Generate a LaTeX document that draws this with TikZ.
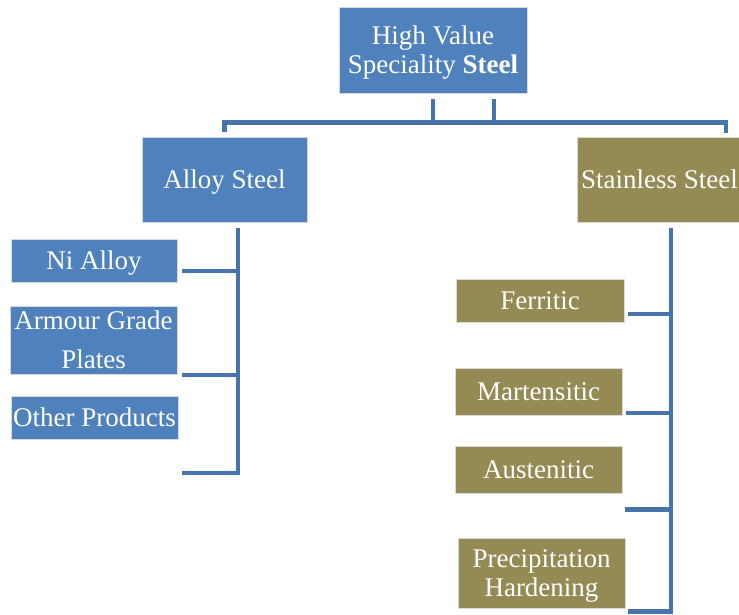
\documentclass[tikz,border=0pt]{standalone}
\usepackage{fontspec}
\setmainfont{Liberation Serif}
\definecolor{boxblue}{HTML}{4F81BD}
\definecolor{boxolive}{HTML}{948A54}
\definecolor{linkblue}{HTML}{4874AD}
\newcommand{\lowerby}[2]{\raisebox{-#1}[\height][\depth]{\begin{tabular}{@{}c@{}}#2\end{tabular}}}
\begin{document}
\begin{tikzpicture}[x=1pt,y=-1pt,
  box/.style={draw=white!85!black, line width=0.8pt, text=white, align=center,
    font=\fontsize{27}{28.5}\selectfont, inner sep=0pt},
  bluebox/.style={box, fill=boxblue},
  olivebox/.style={box, fill=boxolive},
  link/.style={draw=linkblue, line width=4.5pt}]
\clip (0,0) rectangle (739,614);
\useasboundingbox (0,0) rectangle (739,614);
\node[bluebox, minimum width=188pt, minimum height=86pt] (top) at (433,50) {\lowerby{3.5pt}{High Value\\Speciality \textbf{Steel}}};
\node[bluebox, minimum width=165pt, minimum height=85pt] (alloy) at (224.5,179.5) {\lowerby{3pt}{Alloy Steel}};
\node[olivebox, minimum width=165pt, minimum height=85pt] (stain) at (659.5,179.5) {Stainless Steel};
\node[bluebox, minimum width=166pt, minimum height=43pt] (ni) at (94,260.5) {\lowerby{3pt}{Ni Alloy}};
\node[bluebox, minimum width=167pt, minimum height=68pt, font=\fontsize{27}{39}\selectfont] (armour) at (93.5,340) {Armour Grade\\Plates};
\node[bluebox, minimum width=167pt, minimum height=43pt] (other) at (94.5,417.5) {Other Products};
\node[olivebox, minimum width=168pt, minimum height=43pt] (ferr) at (540,300.5) {Ferritic};
\node[olivebox, minimum width=167pt, minimum height=47pt] (mart) at (538.5,391.5) {Martensitic};
\node[olivebox, minimum width=167pt, minimum height=47pt] (aust) at (538.5,469.5) {Austenitic};
\node[olivebox, minimum width=167pt, minimum height=70pt] (prec) at (541.5,573) {\lowerby{3.5pt}{Precipitation\\Hardening}};
% top connectors
\coordinate (hl) at (224.5,122.5);
\coordinate (hr) at (726,122.5);
\draw[link] (433,99) -- (433,122.5);
\draw[link] (494,99) -- (494,122.5);
\draw[link] (alloy.north -| hl) ++(0,-5) -- (hl) -- (hr) -- ++(0,10);
% alloy bracket
\coordinate (av) at (238,228);
\draw[link] (av) -- (238,473) -- (182,473);
\draw[link] (182,271) -- (238,271);
\draw[link] (182,375) -- (238,375);
% stainless bracket
\coordinate (sv) at (671,228);
\draw[link] (sv) -- (671,611.5) -- (628,611.5);
\draw[link] (628,314) -- (671,314);
\draw[link] (626,413) -- (671,413);
\draw[link] (625,509.5) -- (671,509.5);
\end{tikzpicture}
\end{document}
